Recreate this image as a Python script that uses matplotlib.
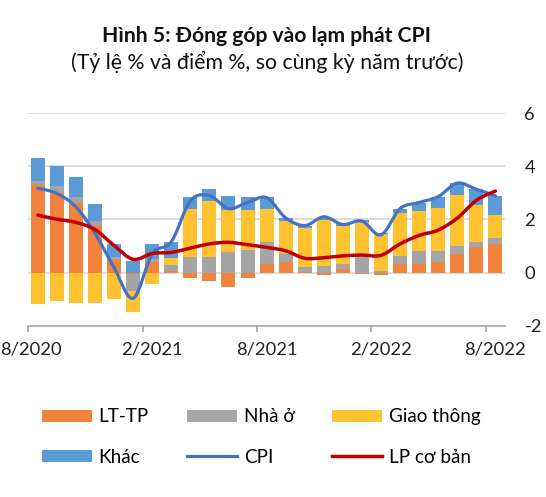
import numpy as np
import matplotlib
matplotlib.use("Agg")
import matplotlib.pyplot as plt
from matplotlib.path import Path
from matplotlib.patches import PathPatch, Patch
from matplotlib.lines import Line2D
from matplotlib.font_manager import FontProperties
from matplotlib.transforms import ScaledTranslation

FAMILY = ['Lato', 'DejaVu Sans']
plt.rcParams['font.family'] = FAMILY
plt.rcParams['axes.unicode_minus'] = False

# ---------------- data ----------------
months = ["8/2020", "9/2020", "10/2020", "11/2020", "12/2020",
          "1/2021", "2/2021", "3/2021", "4/2021", "5/2021", "6/2021", "7/2021",
          "8/2021", "9/2021", "10/2021", "11/2021", "12/2021",
          "1/2022", "2/2022", "3/2022", "4/2022", "5/2022", "6/2022", "7/2022",
          "8/2022"]
tick_labels = ["8/2020", "2/2021", "8/2021", "2/2022", "8/2022"]

lt_tp = [3.31, 3.01, 2.63, 1.74, 0.47, -0.05, 0.38, 0.07, -0.21, -0.31, -0.53, -0.22,
         0.33, 0.40, 0.04, -0.08, 0.13, -0.06, -0.10, 0.31, 0.34, 0.40, 0.70, 0.95, 1.07]
nha_o = [0.15, 0.24, 0.20, 0.19, 0.12, -0.63, 0.15, 0.20, 0.57, 0.58, 0.78, 0.85,
         0.83, 0.30, 0.18, 0.25, 0.21, 0.57, 0.05, 0.31, 0.48, 0.42, 0.31, 0.22, 0.25]
giao_thong = [-1.18, -1.07, -1.16, -1.16, -0.98, -0.79, -0.43, 0.28, 1.81, 2.13, 1.59, 1.51,
              1.22, 1.25, 1.47, 1.73, 1.40, 1.35, 1.42, 1.64, 1.51, 1.62, 1.90, 1.37, 0.84]
khac = [0.85, 0.76, 0.76, 0.66, 0.50, 0.44, 0.55, 0.59, 0.47, 0.44, 0.51, 0.49,
        0.45, 0.09, 0.07, 0.06, 0.08, 0.07, 0.03, 0.13, 0.30, 0.39, 0.45, 0.60, 0.72]
cpi = [3.18, 2.98, 2.47, 1.48, 0.19, -0.97, 0.70, 1.16, 2.70, 2.90, 2.41, 2.64,
       2.82, 2.06, 1.77, 2.10, 1.81, 1.94, 1.42, 2.41, 2.64, 2.86, 3.37, 3.14, 2.89]
lp_co_ban = [2.16, 2.01, 1.89, 1.62, 1.02, 0.50, 0.72, 0.76, 0.92, 1.08, 1.14, 1.05,
             0.95, 0.82, 0.54, 0.56, 0.63, 0.66, 0.65, 1.08, 1.40, 1.60, 2.05, 2.72, 3.07]

bar_names = ["LT-TP", "Nhà ở", "Giao thông", "Khác"]
bar_colors = ["#F0843C", "#A5A5A5", "#FFC331", "#5B9BD5"]
cpi_color = "#4472C4"
lp_color = "#C00000"

fig = plt.figure(figsize=(5.46, 4.97), dpi=100)
renderer = fig.canvas.get_renderer()


def fit_size(s, target_px, weight='normal'):
    fp = FontProperties(family=FAMILY, weight=weight, size=10)
    w, h, d = renderer.get_text_width_height_descent(s, fp, ismath=False)
    return 10.0 * target_px / w


FS_TICK = fit_size("8/2020", 61.5)
FS_LEG = fit_size("LT-TP", 50)
FS_T1 = fit_size("Hình 5: Đóng góp vào lạm phát CPI", 330, 'bold')
FS_T2 = fit_size("(Tỷ lệ % và điểm %, so cùng kỳ năm trước)", 392)

ax = fig.add_axes([0.0518, 0.3447, 0.873, 0.4274])

x = np.arange(len(months))
pos_b = np.zeros(len(x))
neg_b = np.zeros(len(x))
for vals, col in zip([lt_tp, nha_o, giao_thong, khac], bar_colors):
    v = np.array(vals)
    b = np.where(v >= 0, pos_b, neg_b)
    ax.bar(x, v, bottom=b, width=0.735, color=col, linewidth=0, zorder=2)
    pos_b += np.where(v > 0, v, 0)
    neg_b += np.where(v < 0, v, 0)


def smooth_path(xs, ys):
    pts = np.column_stack([xs, ys]).astype(float)
    n = len(pts)
    verts = [pts[0]]
    codes = [Path.MOVETO]
    for i in range(n - 1):
        p0 = pts[i - 1] if i > 0 else pts[i]
        p1 = pts[i]
        p2 = pts[i + 1]
        p3 = pts[i + 2] if i + 2 < n else pts[i + 1]
        c1 = p1 + (p2 - p0) / 6.0
        c2 = p2 - (p3 - p1) / 6.0
        verts += [c1, c2, p2]
        codes += [Path.CURVE4] * 3
    return Path(verts, codes)


ax.add_patch(PathPatch(smooth_path(x, cpi), fill=False, edgecolor=cpi_color, lw=2.3,
                       capstyle='round', joinstyle='round', zorder=3))
ax.add_patch(PathPatch(smooth_path(x, lp_co_ban), fill=False, edgecolor=lp_color, lw=2.5,
                       capstyle='round', joinstyle='round', zorder=4))

ax.set_xlim(-0.5, len(x) - 0.5)
ax.set_ylim(-2, 6)
ax.set_yticks([-2, 0, 2, 4, 6])
ax.yaxis.tick_right()
ax.tick_params(axis='y', length=0, pad=14, labelsize=FS_TICK, labelcolor='#222222')
for lab in ax.get_yticklabels():
    lab.set_horizontalalignment('left')
ax.grid(axis='y', color='#D9D9D9', lw=1.3, zorder=0)
ax.set_axisbelow(True)

# major ticks between categories (marks only), labels at category centres
ax.set_xticks([i - 0.5 for i in range(0, len(x), 6)])
ax.set_xticklabels([])
ax.tick_params(axis='x', which='major', length=4.3, width=1.2, color='#A6A6A6')
ax.set_xticks(list(range(0, len(x), 6)), minor=True)
ax.set_xticklabels(tick_labels, minor=True)
ax.tick_params(axis='x', which='minor', length=0, pad=11.5, labelsize=FS_TICK,
               labelcolor='#222222')
first = ax.xaxis.get_minor_ticks()[0].label1
first.set_transform(first.get_transform() + ScaledTranslation(-6.8 / 100, 0, fig.dpi_scale_trans))

for s in ['top', 'left', 'right']:
    ax.spines[s].set_visible(False)
ax.spines['bottom'].set_color('#A6A6A6')
ax.spines['bottom'].set_linewidth(1.2)

# titles
fig.text(267 / 546, 1 - 42 / 497, "Hình 5: Đóng góp vào lạm phát CPI", ha='center',
         va='baseline', fontsize=FS_T1, fontweight='bold', color='#111111')
fig.text(267 / 546, 1 - 69 / 497, "(Tỷ lệ % và điểm %, so cùng kỳ năm trước)", ha='center',
         va='baseline', fontsize=FS_T2, color='#111111')

# legend: three columns
handles = [Patch(facecolor=c, edgecolor='none') for c in bar_colors]
handles += [Line2D([], [], color=cpi_color, lw=2.3), Line2D([], [], color=lp_color, lw=2.5)]
labels = bar_names + ["CPI", "LP cơ bản"]
cols = [(0, 3), (1, 4), (2, 5)]
col_x = [41.7, 187.3, 332]
leg_px = FS_LEG * 100 / 72
for (a, b), cx in zip(cols, col_x):
    fig.legend([handles[a], handles[b]], [labels[a], labels[b]], loc='center left',
               bbox_to_anchor=(cx / 546, 1 - 437 / 497), frameon=False, fontsize=FS_LEG,
               borderpad=0, borderaxespad=0, handlelength=50 / leg_px,
               handleheight=11 / leg_px, handletextpad=6.6 / leg_px, labelspacing=1.23)

fig.savefig("out.png", dpi=100)
